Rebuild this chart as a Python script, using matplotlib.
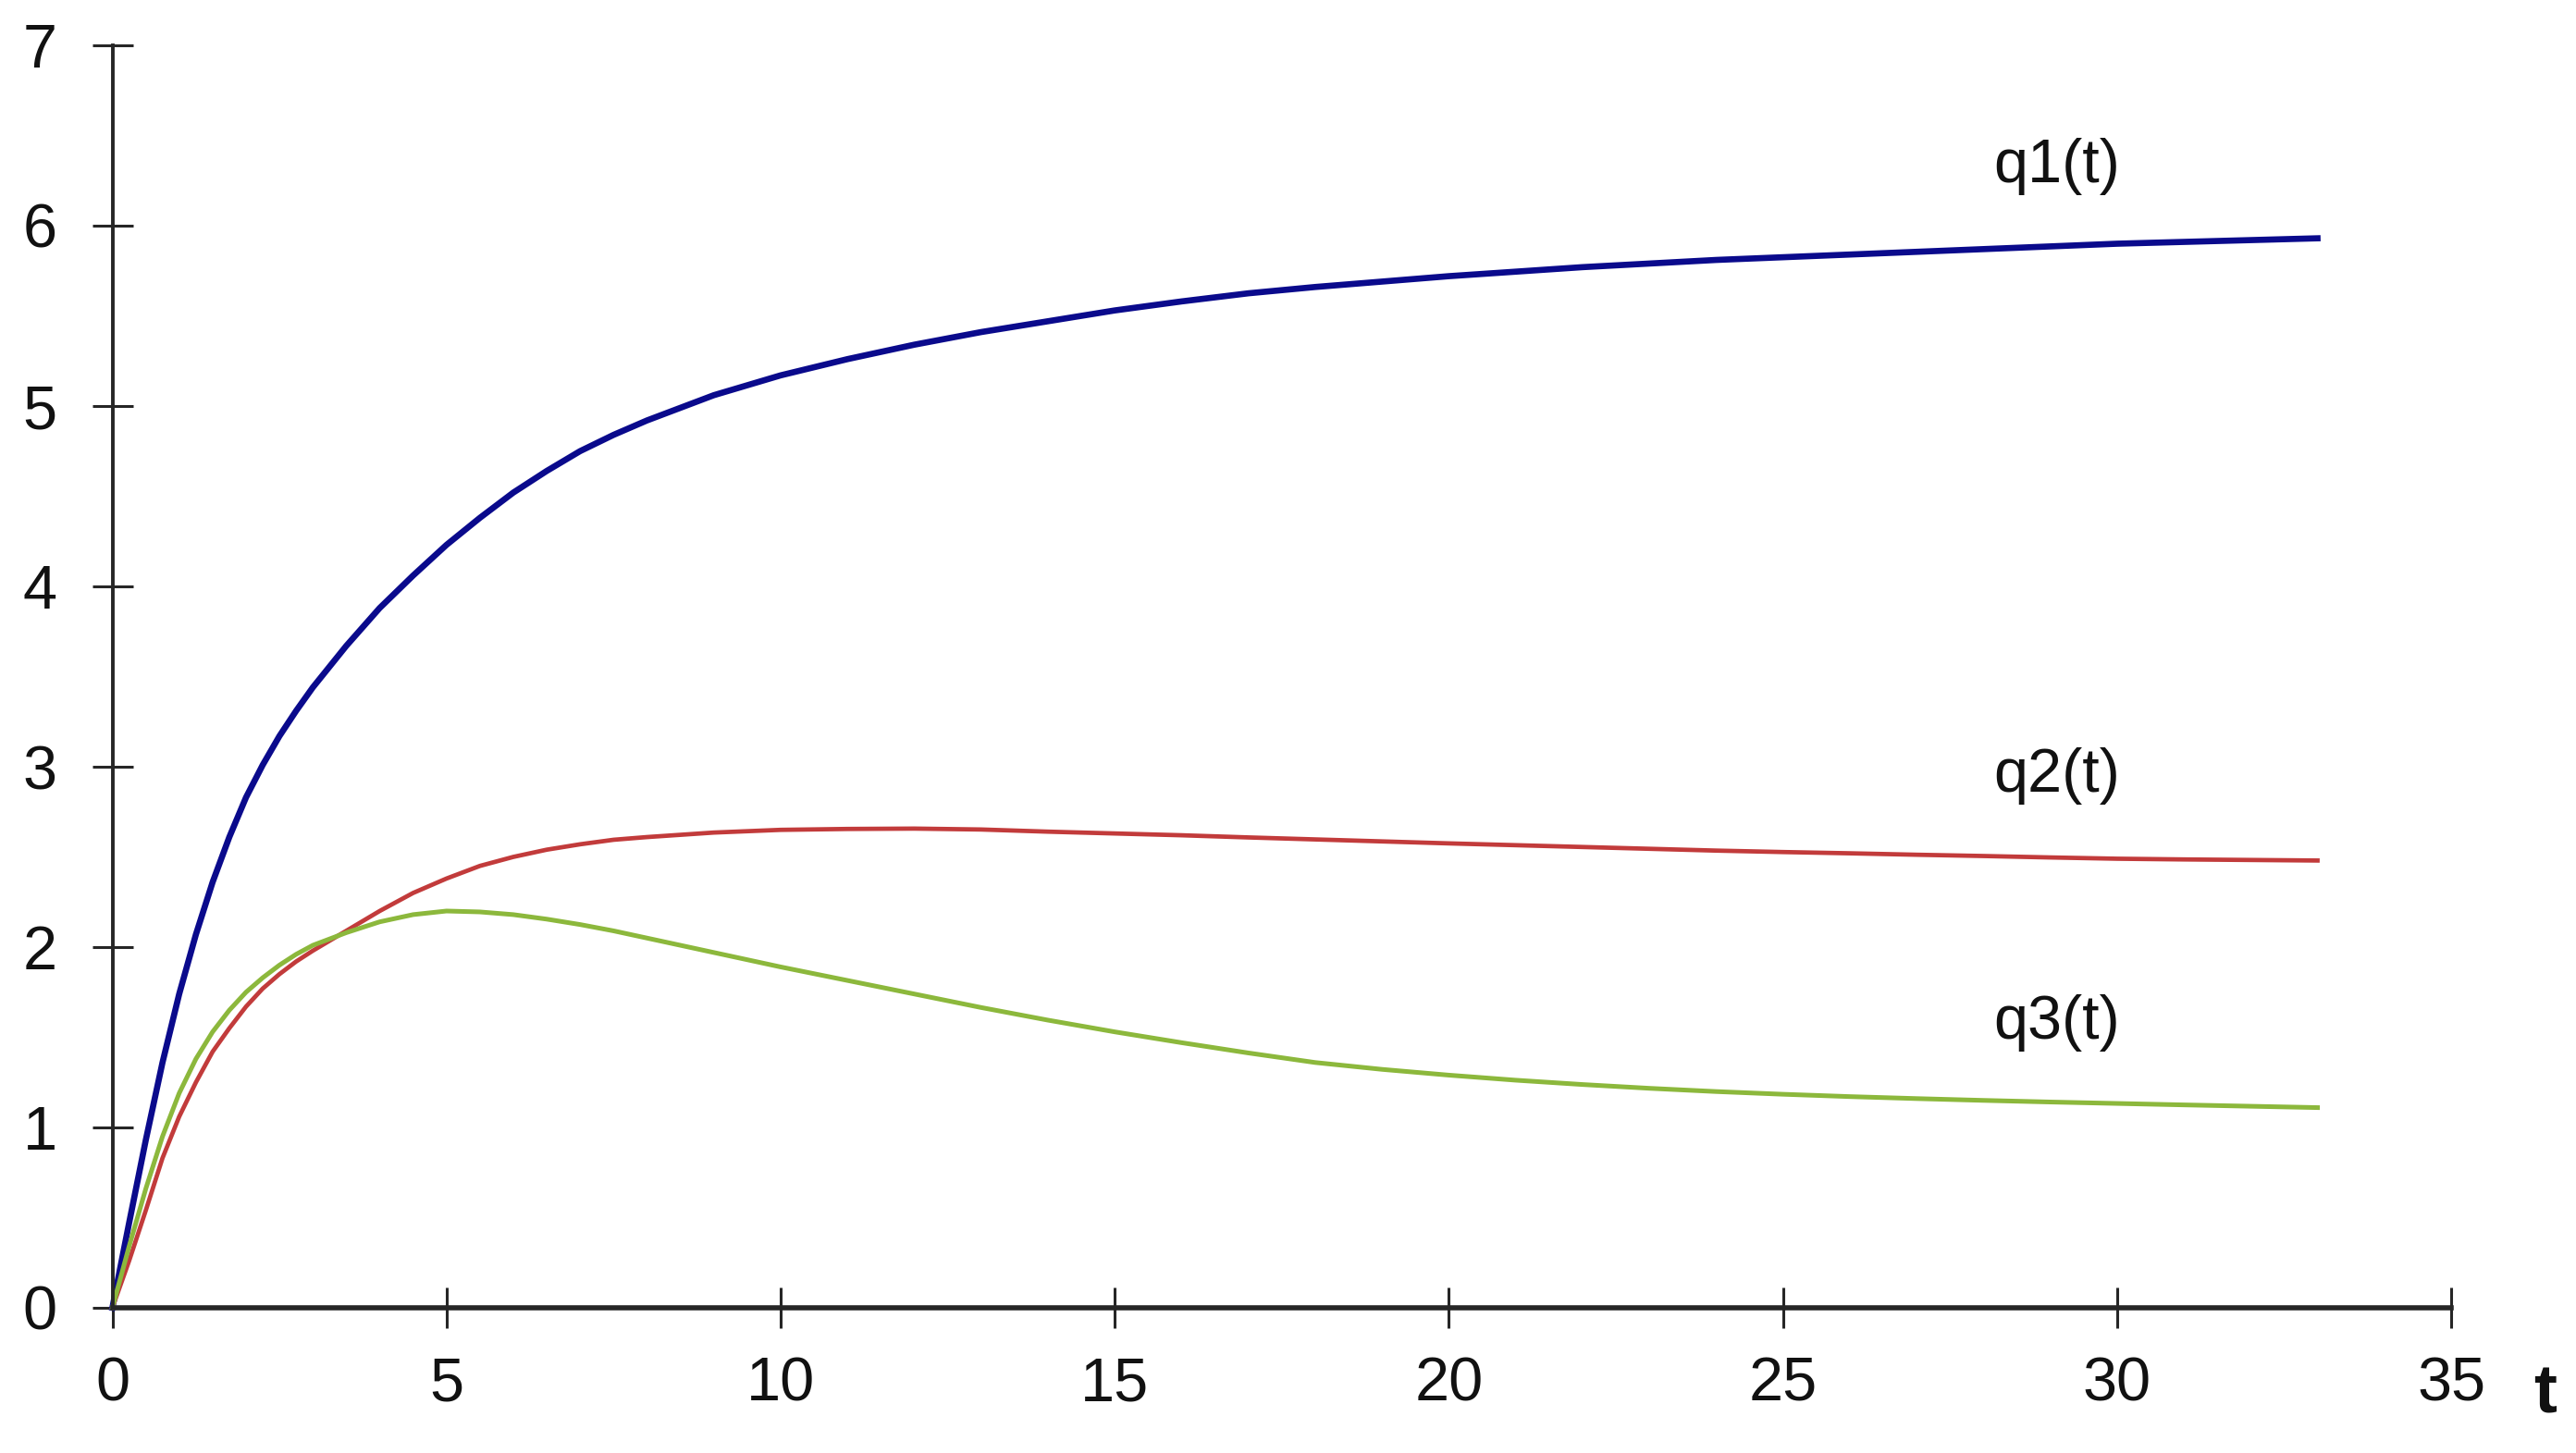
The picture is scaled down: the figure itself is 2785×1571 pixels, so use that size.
#!/usr/bin/env python3

"""Plot q1(t), q2(t), q3(t) curves."""

import matplotlib

matplotlib.use("Agg")
import matplotlib.pyplot as plt

# values
t_values = [0, 0.25, 0.5, 0.75, 1, 1.25, 1.5, 1.75, 2, 2.25, 2.5, 2.75, 3, 3.5,
            4, 4.5, 5, 5.5, 6, 6.5, 7, 7.5, 8, 9, 10, 11, 12, 13, 14, 15, 16,
            17, 18, 19, 20, 21, 22, 23, 24, 25, 26, 27, 28, 29, 30, 31, 33]
q1_values = [0, 0.47, 0.93, 1.36, 1.74, 2.07, 2.36, 2.61, 2.83, 3.01, 3.17, 3.31,
             3.44, 3.67, 3.88, 4.06, 4.23, 4.38, 4.52, 4.64, 4.75, 4.84, 4.92,
             5.06, 5.17, 5.26, 5.34, 5.41, 5.47, 5.53, 5.58, 5.625, 5.66, 5.69,
             5.72, 5.745, 5.77, 5.79, 5.81, 5.825, 5.84, 5.855, 5.87, 5.885,
             5.90, 5.91, 5.93]
q2_values = [0, 0.26, 0.54, 0.83, 1.06, 1.25, 1.42, 1.55, 1.67, 1.77, 1.85, 1.92,
             1.98, 2.09, 2.20, 2.30, 2.38, 2.45, 2.50, 2.54, 2.57, 2.595, 2.61,
             2.635, 2.65, 2.655, 2.657, 2.652, 2.64, 2.63, 2.62, 2.608, 2.597,
             2.586, 2.575, 2.565, 2.555, 2.545, 2.535, 2.527, 2.52, 2.512, 2.505,
             2.497, 2.49, 2.486, 2.48]
q3_values = [0, 0.34, 0.66, 0.95, 1.19, 1.38, 1.53, 1.65, 1.75, 1.83, 1.90, 1.96,
             2.01, 2.08, 2.14, 2.18, 2.20, 2.195, 2.18, 2.155, 2.125, 2.09, 2.05,
             1.97, 1.89, 1.815, 1.74, 1.665, 1.595, 1.53, 1.47, 1.413, 1.36,
             1.322, 1.29, 1.262, 1.238, 1.217, 1.199, 1.184, 1.171, 1.16, 1.15,
             1.141, 1.133, 1.125, 1.11]

curve_names = ["q1(t)", "q2(t)", "q3(t)"]
label_x = [29.1, 29.1, 29.1]
label_y = [6.33, 2.95, 1.58]

x_ticks = [0, 5, 10, 15, 20, 25, 30, 35]
y_ticks = [0, 1, 2, 3, 4, 5, 6, 7]

plt.rcParams["font.family"] = ["Liberation Sans", "DejaVu Sans"]

W, H = 2785, 1571
fig = plt.figure(figsize=(W / 100, H / 100), dpi=100)
ax = fig.add_axes([121.5 / W, (H - 1414) / H, (2650 - 121.5) / W, (1414 - 49) / H])

ax.plot(t_values, q1_values, color="#0a0a8c", linewidth=4.8, clip_on=False,
        solid_joinstyle="round")
ax.plot(t_values, q2_values, color="#c23b3b", linewidth=3.4, clip_on=False,
        solid_joinstyle="round")
ax.plot(t_values, q3_values, color="#8cb83c", linewidth=3.6, clip_on=False,
        solid_joinstyle="round")

for name, lx, ly in zip(curve_names, label_x, label_y):
    ax.text(lx, ly, name, ha="center", va="center", fontsize=48, color="#111111")

ax.set_xlim(0, 35)
ax.set_ylim(0, 7)
ax.set_xticks(x_ticks)
ax.set_yticks(y_ticks)

for side in ("top", "right"):
    ax.spines[side].set_visible(False)
ax.spines["left"].set_linewidth(2.8)
ax.spines["bottom"].set_linewidth(4.0)
ax.spines["left"].set_color("#262626")
ax.spines["bottom"].set_color("#262626")

ax.tick_params(axis="x", direction="inout", length=32, width=2.2, color="#262626",
               labelsize=48, pad=22, labelcolor="#111111")
ax.tick_params(axis="y", direction="inout", length=32, width=2.2, color="#262626",
               labelsize=48, pad=27, labelcolor="#111111")

ax.text(36.4, -0.48, "t", ha="center", va="center", fontsize=54,
        fontweight="bold", color="#111111", clip_on=False)

fig.savefig("out.png", dpi=100, facecolor="white")
